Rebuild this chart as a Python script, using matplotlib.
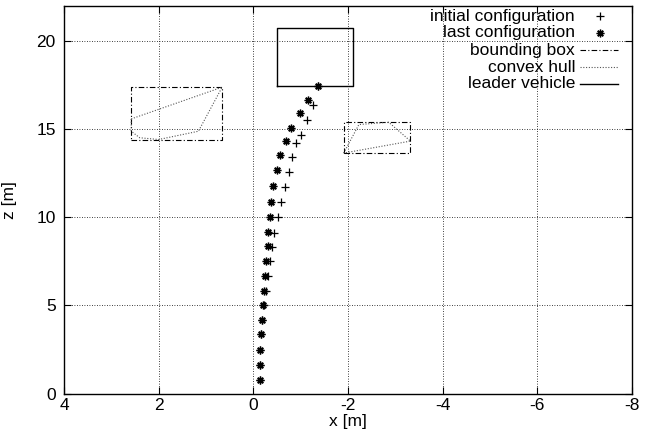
import matplotlib
matplotlib.use("Agg")
import matplotlib.pyplot as plt
from matplotlib.lines import Line2D

plt.rcParams['font.family'] = ['Liberation Sans', 'DejaVu Sans']
plt.rcParams['axes.unicode_minus'] = False

# initial configuration (+)
init_x = [-1.37, -1.25, -1.14, -1.00, -0.91, -0.82, -0.75, -0.66, -0.59, -0.52, -0.44,
          -0.40, -0.36, -0.32, -0.27, -0.23, -0.19, -0.17, -0.15, -0.15, -0.15]
init_z = [17.46, 16.37, 15.51, 14.66, 14.22, 13.43, 12.58, 11.72, 10.85, 10.00, 9.14,
          8.33, 7.52, 6.66, 5.81, 5.02, 4.16, 3.37, 2.46, 1.61, 0.76]
# last configuration (*)
last_x = [-1.37, -1.16, -0.99, -0.80, -0.68, -0.57, -0.49, -0.42, -0.38, -0.36, -0.32,
          -0.30, -0.27, -0.25, -0.23, -0.21, -0.19, -0.17, -0.15, -0.15, -0.15]
last_z = [17.46, 16.66, 15.93, 15.07, 14.34, 13.55, 12.69, 11.78, 10.87, 10.02, 9.16,
          8.37, 7.52, 6.66, 5.81, 5.02, 4.16, 3.37, 2.46, 1.61, 0.76]

# obstacles: bounding boxes (x extent, z extent)
bbox1_x = [2.58, 0.66]
bbox1_z = [14.42, 17.39]
bbox2_x = [-1.91, -3.32]
bbox2_z = [13.63, 15.40]
# convex hulls
hull1_x = [2.58, 0.66, 1.16, 2.00, 2.40, 2.58, 2.58]
hull1_z = [15.59, 17.39, 14.89, 14.42, 14.52, 14.89, 15.59]
hull2_x = [-1.91, -2.23, -2.86, -3.32, -1.91]
hull2_z = [13.65, 15.27, 15.40, 14.33, 13.65]
# leader vehicle box
leader_x = [-0.51, -2.11]
leader_z = [17.48, 20.77]

xticks = [4, 2, 0, -2, -4, -6, -8]
yticks = [0, 5, 10, 15, 20]
legend_labels = ['initial configuration', 'last configuration', 'bounding box',
                 'convex hull', 'leader vehicle']

FS = 12.5


def rect(xs, zs):
    x0, x1 = xs
    z0, z1 = zs
    return [x0, x1, x1, x0, x0], [z0, z0, z1, z1, z0]


W, H = 653, 436
fig = plt.figure(figsize=(W / 100, H / 100), dpi=100)
ax = fig.add_axes([64 / W, 1 - 393.5 / H, (632 - 64) / W, (393.5 - 6) / H])

styles = [
    dict(linestyle='none', marker='+', markersize=6, mew=0.9, color='black'),
    dict(linestyle='none', marker=(8, 2, 0), markersize=5.5, mew=1.0, color='black'),
    dict(color='black', lw=0.8, linestyle=(0, (5, 2, 1, 2))),
    dict(color='#555555', lw=0.8, linestyle=(0, (1, 1.5))),
    dict(color='black', lw=1.0),
]

ax.plot(init_x, init_z, **styles[0])
ax.plot(last_x, last_z, **styles[1])
for bxs, bzs in [(bbox1_x, bbox1_z), (bbox2_x, bbox2_z)]:
    bx, bz = rect(bxs, bzs)
    ax.plot(bx, bz, **styles[2])
ax.plot(hull1_x, hull1_z, **styles[3])
ax.plot(hull2_x, hull2_z, **styles[3])
lx, lz = rect(leader_x, leader_z)
ax.plot(lx, lz, **styles[4])

ax.set_xlim(4, -8)
ax.set_ylim(0, 22)
ax.set_xticks(xticks)
ax.set_yticks(yticks)
ax.tick_params(direction='in', length=5, width=0.8, top=True, right=True,
               labelsize=FS, colors='black')
ax.tick_params(axis='y', pad=6)
ax.tick_params(axis='x', pad=3)
ax.grid(True, color='black', lw=0.6, linestyle=(0, (1, 2)))
for s in ax.spines.values():
    s.set_linewidth(1.0)

ax.set_xlabel('x [m]', fontsize=FS, labelpad=1)
ax.set_ylabel('z [m]', fontsize=FS, labelpad=14)

# gnuplot-style key: right-aligned text, sample to its right
def px(x, y):
    return x / W, 1 - y / H

for i, (lab, st) in enumerate(zip(legend_labels, styles)):
    yc = 16 + i * 17
    tx, ty = px(575, yc)
    fig.text(tx, ty, lab, ha='right', va='center', fontsize=FS)
    if st.get('marker'):
        mx, my = px(600, yc)
        fig.add_artist(Line2D([mx], [my], transform=fig.transFigure, **st))
    else:
        x0, y0 = px(580, yc)
        x1, _ = px(618, yc)
        fig.add_artist(Line2D([x0, x1], [y0, y0], transform=fig.transFigure, **st))

fig.savefig('out.png', dpi=100)
